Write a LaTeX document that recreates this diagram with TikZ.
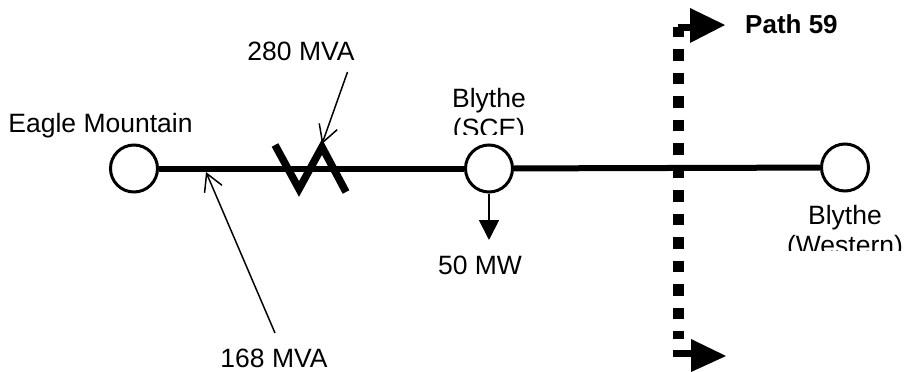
\documentclass[tikz,border=0pt]{standalone}
\usepackage{fontspec}
\setmainfont{Liberation Sans}
\usetikzlibrary{arrows.meta}
\tikzset{
  bus/.style={circle,draw=black,line width=3pt,fill=white,minimum size=47pt,inner sep=0pt},
  line5/.style={line width=6pt,black},
  squiggle/.style={line width=7.5pt,black,line join=miter},
  callout/.style={line width=1.5pt,black,-{Straight Barb[length=17pt,width=19pt,line width=1.5pt]}},
  load/.style={line width=1.8pt,black,-{Triangle[length=20pt,width=20pt]}},
  cut/.style={line width=11pt,black,dash pattern=on 11.5pt off 12pt},
  hook/.style={line width=7pt,black},
  bigtip/.style={fill=black,draw=none},
  lbl/.style={font=\fontsize{26.5}{30}\selectfont,anchor=base,inner sep=0pt,text=black},
  lblb/.style={font=\fontsize{26}{30}\bfseries\selectfont,anchor=base west,inner sep=0pt,text=black}
}
\begin{document}
\begin{tikzpicture}[x=1pt,y=-1pt]
\useasboundingbox (0,0) rectangle (905,372);
\node[bus] (em) at (134,168.5) {};
\node[bus] (sce) at (489,168.5) {};
\node[bus] (wes) at (845,167.5) {};
\draw[line5] (em) -- (sce);
\draw[line5] (sce) -- (wes);
% transformer symbol
\coordinate (t1) at (275,145);
\coordinate (t2) at (299,189);
\coordinate (t3) at (322,147);
\coordinate (t4) at (346,192);
\draw[squiggle] (t1) -- (t2) -- (t3) -- (t4);
% labels
\node[lbl] (lem) at (100.5,132) {Eagle Mountain};
\node[lbl] (l280) at (301,60) {280 MVA};
\node[lbl] (l50) at (480,274) {50 MW};
\node[lbl] (l168) at (274,367) {168 MVA};
\node[lbl] (lb1) at (489,107) {Blythe};
\node[lbl] (lb3) at (845,224) {Blythe};
\begin{scope}
\clip (440,110) rectangle (540,134.5);
\node[lbl] (lb2) at (489,137) {(SCE)};
\end{scope}
\begin{scope}
\clip (780,228) rectangle (905,250.5);
\node[lbl] (lb4) at (845,254) {(Western)};
\end{scope}
\node[lblb] (lp) at (745,33) {Path 59};
% callouts
\coordinate (a280) at (347.5,72);
\coordinate (b280) at (322,144);
\draw[callout] (a280) -- (b280);
\coordinate (a168) at (275,333);
\coordinate (b168) at (206,172);
\draw[callout] (a168) -- (b168);
\coordinate (d50) at (489,240);
\draw[load] (sce) -- (d50);
% cut plane
\coordinate (ctop) at (678,49);
\coordinate (cbot) at (678,339);
\draw[cut] (ctop) -- (cbot);
\coordinate (h1) at (692,27);
\coordinate (h2) at (678,27);
\draw[hook] (h1) -- (h2);
\fill[black] (672.5,27) rectangle (683.5,37);
\coordinate (h4) at (673,353.5);
\coordinate (h5) at (694,353.5);
\draw[hook] (h4) -- (h5);
\fill[bigtip] (690,8) -- (725,25) -- (690,43) -- cycle;
\fill[bigtip] (691,339) -- (726,356) -- (691,372) -- cycle;
\end{tikzpicture}
\end{document}
